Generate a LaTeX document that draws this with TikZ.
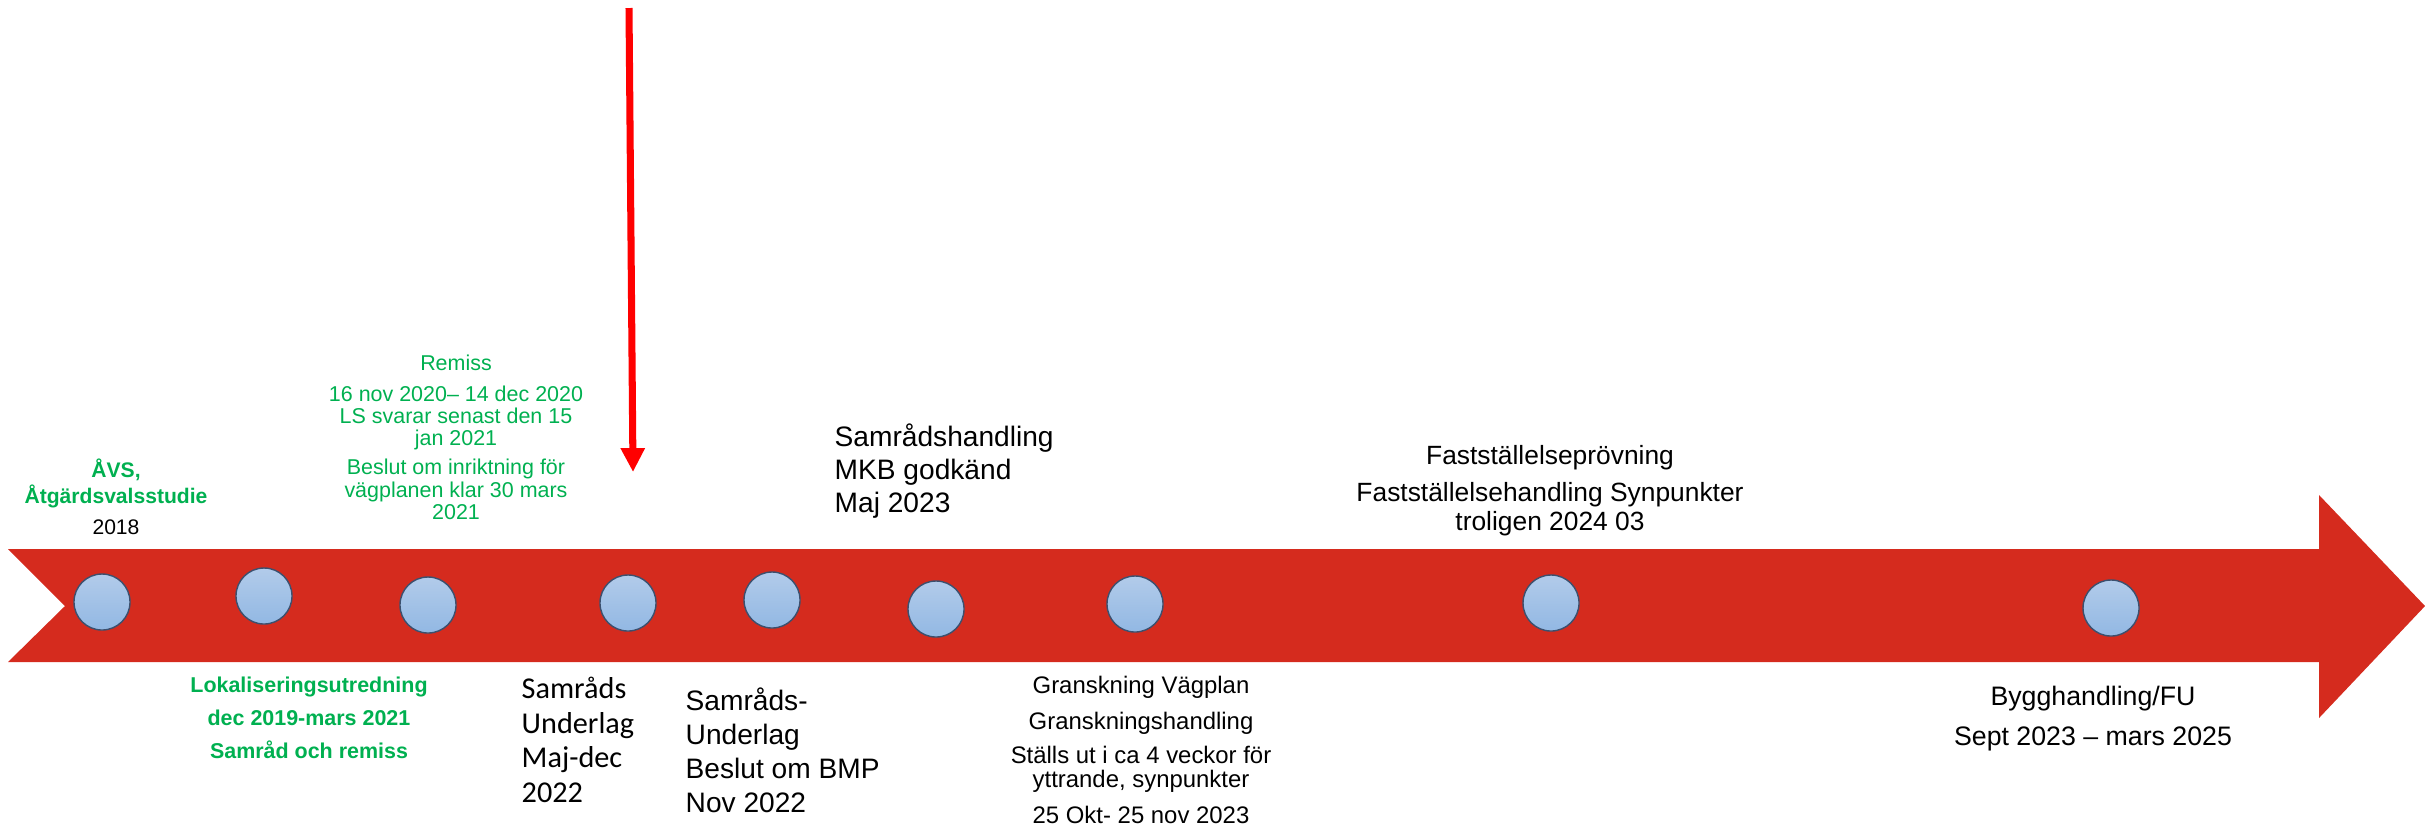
\documentclass[tikz,border=0pt]{standalone}
\usepackage{fontspec}
\setmainfont{Liberation Sans}
\newfontfamily\calibrifont{Carlito}
\usetikzlibrary{arrows.meta}
\definecolor{bandred}{RGB}{213,43,30}
\definecolor{ppgreen}{RGB}{0,176,80}
\definecolor{dotedge}{RGB}{60,80,110}
\definecolor{dottop}{RGB}{178,203,234}
\definecolor{dotbot}{RGB}{146,184,227}
\begin{document}
\begin{tikzpicture}[x=0.01cm,y=-0.01cm,line join=round,
    dot/.style={circle,draw=dotedge,line width=0.4pt,top color=dottop,bottom color=dotbot,minimum size=0.56cm,inner sep=0pt},
    lbl/.style={inner sep=0pt,align=center}]
    \useasboundingbox (0,0) rectangle (2425,829);
    % tidslinje
    \fill[bandred] (8,549) -- (2319,549) -- (2319,495) -- (2425,606) -- (2319,718) -- (2319,662) -- (8,662) -- (65,606) -- cycle;
    \foreach \i/\x/\y in {1/102/602,2/264/596,3/428/605,4/628/603,5/772/600,6/936/609,7/1135/604,8/1551/603,9/2111/608}
        \node[dot] (m\i) at (\x,\y) {};
    % markering
    \coordinate (ptop) at (629,8);
    \coordinate (ptip) at (633,472);
    \draw[red,line width=2pt,-{Triangle[length=6.8pt,width=6.5pt]}] (ptop) -- (ptip);
    % ovanfor
    \node[lbl,text=ppgreen,font=\bfseries\fontsize{6}{7.4}\selectfont] (avs) at (116,497) {ÅVS,\\Åtgärdsvalsstudie\\[1.4pt]{\color{black}\mdseries 2018}};
    \node[lbl,text=ppgreen,font=\fontsize{6.1}{6.3}\selectfont] (remiss) at (456,437) {Remiss\\[2.6pt]16 nov 2020– 14 dec 2020\\LS svarar senast den 15\\jan 2021\\[2pt]Beslut om inriktning för\\vägplanen klar 30 mars\\2021};
    \node[lbl,align=left,anchor=west,font=\fontsize{8}{9.4}\selectfont] (samhandl) at (834,471) {Samrådshandling\\MKB godkänd\\Maj 2023};
    \node[lbl,font=\fontsize{7.5}{8.3}\selectfont] (fast) at (1550,491) {Fastställelseprövning\\[2.2pt]Fastställelsehandling Synpunkter\\troligen 2024 03};
    % nedanfor
    \node[lbl,text=ppgreen,font=\bfseries\fontsize{6.1}{9.4}\selectfont] (lokal) at (309,718) {Lokaliseringsutredning\\dec 2019-mars 2021\\Samråd och remiss};
    \node[lbl,align=left,anchor=west,font=\calibrifont\fontsize{8.6}{9.8}\selectfont] (samund1) at (521,740) {Samråds\\Underlag\\Maj-dec\\2022};
    \node[lbl,align=left,anchor=west,font=\fontsize{8}{9.7}\selectfont] (samund2) at (685,750) {Samråds-\\Underlag\\Beslut om BMP\\Nov 2022};
    \node[lbl,font=\fontsize{6.8}{6.9}\selectfont] (gransk) at (1141,750) {Granskning Vägplan\\[3.4pt]Granskningshandling\\[2.8pt]Ställs ut i ca 4 veckor för\\yttrande, synpunkter\\[3.4pt]25 Okt- 25 nov 2023};
    \node[lbl,font=\fontsize{7.6}{8.7}\selectfont] (bygg) at (2093,719) {Bygghandling/FU\\[2.7pt]Sept 2023 – mars 2025};
\end{tikzpicture}
\end{document}
